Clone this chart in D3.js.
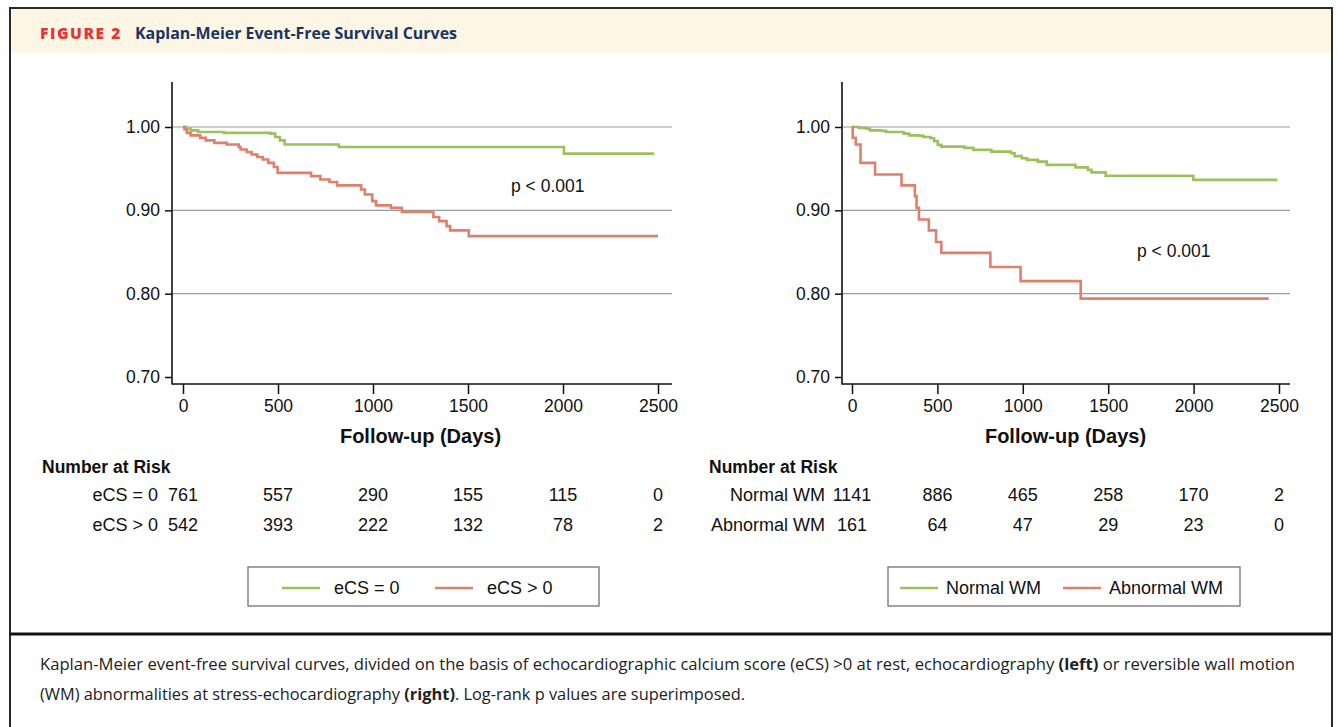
<!DOCTYPE html>
<html>
<head>
<meta charset="utf-8">
<script src="https://cdn.jsdelivr.net/npm/d3@7"></script>
<style>
  body { margin: 0; background: #fff; }
  svg text { font-family: "Liberation Sans", Arial, sans-serif; fill: #111; }
</style>
</head>
<body>
<svg id="figura" width="1337" height="727"></svg>
<script>
// ticks dos eixos
var tickDias = [0, 500, 1000, 1500, 2000, 2500];
var tickSobrev = [0.70, 0.80, 0.90, 1.00];
var gradeSobrev = [0.80, 0.90, 1.00];

// painel esquerdo - eCS = 0
var ecsZeroDias   = [0, 15, 40, 80, 215, 460, 485, 510, 535, 820, 2005, 2480];
var ecsZeroSobrev = [1.000, 0.998, 0.996, 0.994, 0.993, 0.992, 0.988, 0.984, 0.979, 0.976, 0.968, 0.968];

// painel esquerdo - eCS > 0
var ecsPosDias   = [0, 8, 20, 40, 90, 120, 165, 230, 293, 303, 335, 361, 391, 420, 449, 478, 498,
                    674, 723, 771, 811, 938, 957, 996, 1016, 1094, 1152, 1318, 1348, 1387, 1406, 1504, 2500];
var ecsPosSobrev = [1.000, 0.997, 0.993, 0.990, 0.987, 0.984, 0.981, 0.979, 0.976, 0.973, 0.970, 0.967, 0.964, 0.961, 0.957, 0.952, 0.945,
                    0.941, 0.937, 0.934, 0.930, 0.925, 0.919, 0.911, 0.906, 0.903, 0.898, 0.892, 0.887, 0.881, 0.876, 0.869, 0.869];

// painel direito - Normal WM
var normalDias   = [0, 40, 84, 105, 167, 199, 303, 335, 397, 418, 460, 481, 502, 523, 659, 711, 816,
                    931, 952, 994, 1025, 1088, 1140, 1308, 1381, 1402, 1485, 1998, 2490];
var normalSobrev = [1.000, 0.999, 0.998, 0.996, 0.9955, 0.994, 0.992, 0.990, 0.9895, 0.988, 0.9865, 0.983, 0.9785, 0.9765, 0.975, 0.9725, 0.9705,
                    0.9685, 0.965, 0.9625, 0.9605, 0.9585, 0.9545, 0.9515, 0.9485, 0.9455, 0.9415, 0.9365, 0.9365];

// painel direito - Abnormal WM
var anormalDias   = [0, 4, 22, 50, 135, 290, 368, 378, 392, 450, 492, 523, 810, 987, 1339, 2440];
var anormalSobrev = [1.000, 0.987, 0.979, 0.957, 0.943, 0.930, 0.917, 0.903, 0.889, 0.876, 0.862, 0.849, 0.832, 0.815, 0.794, 0.794];

// numero em risco
var riscoEcsZero = [761, 557, 290, 155, 115, 0];
var riscoEcsPos  = [542, 393, 222, 132, 78, 2];
var riscoNormal  = [1141, 886, 465, 258, 170, 2];
var riscoAnormal = [161, 64, 47, 29, 23, 0];

var corVerde = "#9cc15c";
var corVermelho = "#e07f6b";

var svg = d3.select("#figura");

//moldura e cabecalho
svg.append("rect")
  .attr("x", 10).attr("y", 8)
  .attr("width", 1322).attr("height", 740)
  .attr("fill", "none")
  .attr("stroke", "#2a2a2a")
  .attr("stroke-width", 2);

svg.append("rect")
  .attr("x", 11).attr("y", 9)
  .attr("width", 1320).attr("height", 44)
  .attr("fill", "#fdf6e4");

svg.append("text")
  .attr("x", 40).attr("y", 39)
  .attr("textLength", 82)
  .attr("lengthAdjust", "spacingAndGlyphs")
  .style("font-family", "'Open Sans', sans-serif")
  .style("font-weight", 800)
  .style("font-size", "15px")
  .style("letter-spacing", "1.5px")
  .style("fill", "#e2363b")
  .text("FIGURE 2");

svg.append("text")
  .attr("x", 135).attr("y", 39)
  .attr("textLength", 322)
  .attr("lengthAdjust", "spacingAndGlyphs")
  .style("font-family", "'Open Sans', sans-serif")
  .style("font-weight", 700)
  .style("font-size", "16.5px")
  .style("fill", "#1b3360")
  .text("Kaplan-Meier Event-Free Survival Curves");

svg.append("line")
  .attr("x1", 10).attr("x2", 1332)
  .attr("y1", 634).attr("y2", 634)
  .attr("stroke", "#111")
  .attr("stroke-width", 3);

// legenda de baixo
var legendaLinha1 = svg.append("text")
  .attr("x", 40).attr("y", 670)
  .attr("textLength", 1255)
  .attr("lengthAdjust", "spacingAndGlyphs")
  .style("font-family", "'Open Sans', sans-serif")
  .style("font-size", "16px");
legendaLinha1.append("tspan").style("fill", "#222")
  .text("Kaplan-Meier event-free survival curves, divided on the basis of echocardiographic calcium score (eCS) >0 at rest, echocardiography ");
legendaLinha1.append("tspan").style("font-weight", 700).style("fill", "#222").text("(left)");
legendaLinha1.append("tspan").style("fill", "#222").text(" or reversible wall motion");

var legendaLinha2 = svg.append("text")
  .attr("x", 40).attr("y", 700)
  .attr("textLength", 705)
  .attr("lengthAdjust", "spacingAndGlyphs")
  .style("font-family", "'Open Sans', sans-serif")
  .style("font-size", "16px");
legendaLinha2.append("tspan").style("fill", "#222").text("(WM) abnormalities at stress-echocardiography ");
legendaLinha2.append("tspan").style("font-weight", 700).style("fill", "#222").text("(right)");
legendaLinha2.append("tspan").style("fill", "#222").text(". Log-rank p values are superimposed.");

//desenha um painel de curvas
function desenhaPainel(p) {

  var xScale = d3.scaleLinear().domain([0, 2500]).range([p.x0, p.x1]);
  var yScale = d3.scaleLinear().domain([0.70, 1.00]).range([377, 127]);
  var g = svg.append("g");

  // grade horizontal
  g.selectAll(".grade")
    .data(gradeSobrev)
    .enter()
    .append("line")
    .attr("x1", p.eixo).attr("x2", p.fim)
    .attr("y1", function(d) { return yScale(d); })
    .attr("y2", function(d) { return yScale(d); })
    .attr("stroke", "#9a9a9a")
    .attr("stroke-width", 1.2);

  var eixoY = g.append("g")
    .attr("transform", "translate(" + p.eixo + ",0)")
    .call(d3.axisLeft(yScale).tickValues(tickSobrev).tickFormat(d3.format(".2f")).tickSize(7).tickPadding(5));
  var eixoX = g.append("g")
    .attr("transform", "translate(0,384)")
    .call(d3.axisBottom(xScale).tickValues(tickDias).tickFormat(d3.format("d")).tickSize(10).tickPadding(6));

  [eixoY, eixoX].forEach(function(e) {
    e.select(".domain").remove();
    e.selectAll(".tick line").attr("stroke", "#111").attr("stroke-width", 1.5);
    e.selectAll(".tick text").style("font-size", "17.5px").style("font-family", "'Liberation Sans', Arial, sans-serif").attr("fill", "#111");
  });

  g.append("line")
    .attr("x1", p.eixo).attr("x2", p.eixo)
    .attr("y1", 82).attr("y2", 384.5)
    .attr("stroke", "#111").attr("stroke-width", 1.6);
  g.append("line")
    .attr("x1", p.eixo).attr("x2", p.fim)
    .attr("y1", 384).attr("y2", 384)
    .attr("stroke", "#111").attr("stroke-width", 1.6);

  // curvas
  var linha = d3.line()
    .x(function(d) { return xScale(d[0]); })
    .y(function(d) { return yScale(d[1]); })
    .curve(d3.curveStepAfter);

  p.curvas.forEach(function(c) {
    g.append("path")
      .datum(d3.zip(c.dias, c.sobrev))
      .attr("d", linha)
      .attr("fill", "none")
      .attr("stroke", c.cor)
      .attr("stroke-width", 2.6);
  });

  g.append("text")
    .attr("x", p.pX).attr("y", p.pY)
    .style("font-size", "17.5px")
    .text("p < 0.001");

  g.append("text")
    .attr("x", (p.x0 + p.x1) / 2).attr("y", 443)
    .attr("text-anchor", "middle")
    .style("font-size", "20px")
    .style("font-weight", "bold")
    .text("Follow-up (Days)");

  // numero em risco
  g.append("text")
    .attr("x", p.riscoTitulo).attr("y", 473)
    .style("font-size", "17.5px")
    .style("font-weight", "bold")
    .text("Number at Risk");

  p.curvas.forEach(function(c, i) {
    var yLinha = 501 + i * 30;
    g.append("text")
      .attr("x", p.rotuloFim).attr("y", yLinha)
      .attr("text-anchor", "end")
      .style("font-size", "18px")
      .text(c.nome);
    g.selectAll(".risco" + i)
      .data(c.risco)
      .enter()
      .append("text")
      .attr("x", function(d, k) { return xScale(tickDias[k]); })
      .attr("y", yLinha)
      .attr("text-anchor", "middle")
      .style("font-size", "18px")
      .text(function(d) { return d; });
  });

  // caixa da legenda
  var leg = g.append("g");
  leg.append("rect")
    .attr("x", p.legX).attr("y", 567)
    .attr("width", p.legL).attr("height", 39)
    .attr("fill", "#fff")
    .attr("stroke", "#666")
    .attr("stroke-width", 1.2);
  p.curvas.forEach(function(c, i) {
    leg.append("line")
      .attr("x1", p.legItens[i]).attr("x2", p.legItens[i] + 38)
      .attr("y1", 588).attr("y2", 588)
      .attr("stroke", c.cor)
      .attr("stroke-width", 2.4);
    leg.append("text")
      .attr("x", p.legItens[i] + p.legTexto).attr("y", 594)
      .style("font-size", "18px")
      .text(c.nome);
  });
}

desenhaPainel({
  x0: 183, x1: 658, eixo: 172, fim: 672,
  pX: 511, pY: 192,
  riscoTitulo: 42, rotuloFim: 158,
  legX: 248, legL: 351, legItens: [282, 435], legTexto: 52,
  curvas: [
    { nome: "eCS = 0", dias: ecsZeroDias, sobrev: ecsZeroSobrev, cor: corVerde, risco: riscoEcsZero },
    { nome: "eCS > 0", dias: ecsPosDias, sobrev: ecsPosSobrev, cor: corVermelho, risco: riscoEcsPos }
  ]
});

desenhaPainel({
  x0: 852, x1: 1279, eixo: 842, fim: 1290,
  pX: 1137, pY: 257,
  riscoTitulo: 709, rotuloFim: 825,
  legX: 888, legL: 352, legItens: [900, 1063], legTexto: 46,
  curvas: [
    { nome: "Normal WM", dias: normalDias, sobrev: normalSobrev, cor: corVerde, risco: riscoNormal },
    { nome: "Abnormal WM", dias: anormalDias, sobrev: anormalSobrev, cor: corVermelho, risco: riscoAnormal }
  ]
});
</script>
</body>
</html>
